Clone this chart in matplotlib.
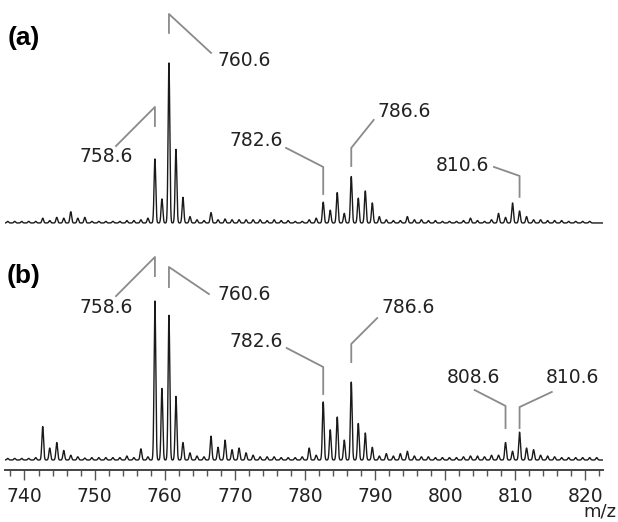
import matplotlib
matplotlib.use('Agg')
import matplotlib.pyplot as plt
import numpy as np

# nominal peak positions (m/z), one per mass unit
mz = np.arange(737.6, 822.0, 1.0)

# relative intensities (%), panel (a)
int_a = [1, 1, 1, 1, 1, 3, 1.5, 3.5, 3, 7, 3, 3.5, 1, 1, 1, 1, 1, 1.5, 1.5, 2,
         3, 40, 15, 100, 46, 16, 4, 2, 1.5, 6.5, 2, 2.5, 2, 2, 2, 2, 2, 1.5, 2,
         1.5, 1.5, 1, 1, 2, 3, 13, 8, 19, 6, 29, 15.5, 20, 12.5, 4, 2, 1.5, 1.5,
         4, 2, 2, 1.5, 1.5, 1, 1, 1, 1.5, 3, 1.5, 1, 2, 6, 3.5, 12.5, 7.5, 4,
         2, 2, 1.5, 1.5, 1.5, 1, 1, 1, 1]

# panel (b)
int_b = [1, 1, 1, 1, 1.5, 21, 7.5, 11, 6, 3, 2, 1.2, 1.5, 1.5, 1.5, 1.5, 1.5, 2.5,
         1.5, 7, 2, 100, 45, 91, 40, 11, 4.5, 2.5, 2, 15, 8, 12.5, 6.5, 7.5,
         4.5, 3, 2, 2, 2, 1.5, 1.5, 1.5, 2, 7.5, 3, 36.5, 19, 27, 12.5, 49, 23,
         17, 8, 2.5, 4, 2.5, 4, 5.5, 2.5, 2, 2, 1.5, 1.5, 1.5, 1.5, 2, 2.5, 2.5,
         2, 3, 3, 11, 5.5, 17.5, 7.5, 6.5, 3, 2.5, 2, 1.5, 1.5, 1.5, 1.5, 1.5, 1.5]

ticks_major = np.arange(740, 821, 10)
ticks_minor = np.arange(738, 823, 2)

# callouts: (peak m/z, vertical from, vertical to, line end x, line end y, label x, label y)
callouts_a = [
    (758.6, 60.6, 72.5, 753.05, 48.1, 751.6, 41.3),
    (760.6, 118.8, 130.6, 766.6, 106.3, 771.4, 101.3),
    (782.6, 18.1, 35.0, 777.3, 46.9, 773.0, 51.3),
    (786.6, 35.6, 46.9, 789.8, 64.4, 794.1, 69.4),
    (810.6, 16.3, 29.4, 806.95, 35.0, 802.4, 35.6),
]
callouts_b = [
    (758.6, 115.7, 127.7, 753.05, 103.1, 751.6, 96.2),
    (760.6, 108.8, 121.4, 766.3, 104.4, 771.3, 103.8),
    (782.6, 41.5, 58.5, 777.4, 70.4, 773.0, 74.8),
    (786.6, 61.6, 73.0, 790.3, 89.3, 794.7, 96.2),
    (808.6, 20.1, 34.0, 804.2, 44.0, 804.0, 51.6),
    (810.6, 20.1, 33.3, 815.2, 42.8, 818.1, 51.6),
]

W, H = 618, 522
fig = plt.figure(figsize=(W / 100, H / 100), dpi=100)

xlim = (737.22, 822.5)
grid = np.arange(xlim[0], xlim[1], 0.01)


def profile(heights):
    # narrow gaussian peak for each nominal mass
    y = np.zeros_like(grid)
    for m, h in zip(mz, heights):
        y += h * np.exp(-0.5 * ((grid - m) / 0.12) ** 2)
    return y


def panel(rect, heights, ylim, callouts, tag, tag_y):
    ax = fig.add_axes(rect)
    ax.plot(grid, profile(heights), color='#1a1a1a', lw=1.0)
    ax.set_xlim(*xlim)
    ax.set_ylim(*ylim)
    for s in ['top', 'right', 'left']:
        ax.spines[s].set_visible(False)
    ax.set_yticks([])
    for m, v0, v1, ex, ey, lx, ly in callouts:
        ax.plot([m, m, ex], [v0, v1, ey], color='#8a8a8a', lw=1.3, clip_on=False)
        ax.text(lx, ly, '%.1f' % m, ha='center', va='center', fontsize=13.5,
                color='#222222', clip_on=False)
    fig.text(24 / W, 1 - tag_y / H, tag, ha='center', va='center',
             fontsize=19, fontweight='bold', family='Liberation Sans')
    return ax


ax_a = panel([5 / W, 1 - 230 / H, 598 / W, 220 / H], int_a, (-4.4, 133.1),
             callouts_a, '(a)', 38)
ax_a.spines['bottom'].set_visible(False)
ax_a.set_xticks([])

ax_b = panel([5 / W, 1 - 470 / H, 598 / W, 220 / H], int_b, (-6.3, 132.1),
             callouts_b, '(b)', 276)
ax_b.spines['bottom'].set_color('#444444')
ax_b.spines['bottom'].set_linewidth(1.4)
ax_b.set_xticks(ticks_major)
ax_b.set_xticks(ticks_minor, minor=True)
ax_b.set_xticklabels([str(t) for t in ticks_major])
ax_b.tick_params(axis='x', which='major', length=7.5, width=1.0, color='#555555',
                 labelsize=13.5, labelcolor='#222222', pad=4.5)
ax_b.tick_params(axis='x', which='minor', length=4.5, width=1.0, color='#555555')

fig.text(600 / W, 1 - 521 / H, 'm/z', ha='center', va='bottom', fontsize=13,
         color='#222222')

fig.savefig('out.png', dpi=100)
